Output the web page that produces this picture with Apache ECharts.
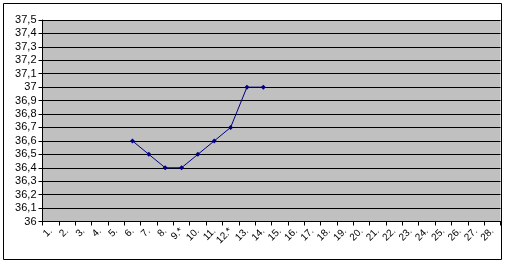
<!DOCTYPE html>
<html>
<head>
<meta charset="utf-8">
<script src="https://cdn.jsdelivr.net/npm/echarts@6/dist/echarts.min.js"></script>
<style>html,body{margin:0;padding:0;background:#fff}#c{width:512px;height:265px}</style>
</head>
<body>
<div id="c"></div>
<script>
var categories = ['1.','2.','3.','4.','5.','6.','7.','8.','9.*','10.','11.','12.*','13.','14.','15.','16.','17.','18.','19.','20.','21.','22.','23.','24.','25.','26.','27.','28.'];
var temps = [null,null,null,null,null,36.6,36.5,36.4,36.4,36.5,36.6,36.7,37,37,null,null,null,null,null,null,null,null,null,null,null,null,null,null];
var yMin = 36, yMax = 37.5, yStep = 0.1;

var chart = echarts.init(document.getElementById('c'), null, {renderer: 'canvas'});
chart.setOption({
  animation: false,
  backgroundColor: '#ffffff',
  graphic: [{
    type: 'rect', silent: true, z: 100,
    shape: {x: 3.5, y: 3.5, width: 498, height: 256},
    style: {fill: 'none', stroke: '#000', lineWidth: 1}
  }],
  grid: {left: 42.5, right: 11.5, top: 20, bottom: 43.5, show: true, backgroundColor: '#c0c0c0', borderWidth: 0},
  xAxis: {
    type: 'category', data: categories, boundaryGap: true,
    axisLine: {lineStyle: {color: '#000', width: 1}},
    axisTick: {show: true, alignWithLabel: false, length: 4, lineStyle: {color: '#000'}},
    axisLabel: {rotate: 45, interval: 0, fontFamily: 'Liberation Sans, Arial', fontSize: 10, color: '#000', margin: 8},
    splitLine: {show: false}
  },
  yAxis: {
    type: 'value', min: yMin, max: yMax, interval: yStep,
    axisLine: {show: true, lineStyle: {color: '#000', width: 1}},
    axisTick: {show: true, length: 4, lineStyle: {color: '#000'}},
    axisLabel: {
      fontFamily: 'Liberation Sans, Arial', fontSize: 11, color: '#000', margin: 6,
      formatter: function (v) { return String(Math.round(v * 10) / 10).replace('.', ','); }
    },
    splitLine: {show: true, lineStyle: {color: '#000', width: 1}}
  },
  series: [{
    type: 'line', data: temps, connectNulls: false,
    symbol: 'diamond', symbolSize: 5,
    lineStyle: {color: '#000080', width: 1},
    itemStyle: {color: '#000080'}
  }]
});
</script>
</body>
</html>
